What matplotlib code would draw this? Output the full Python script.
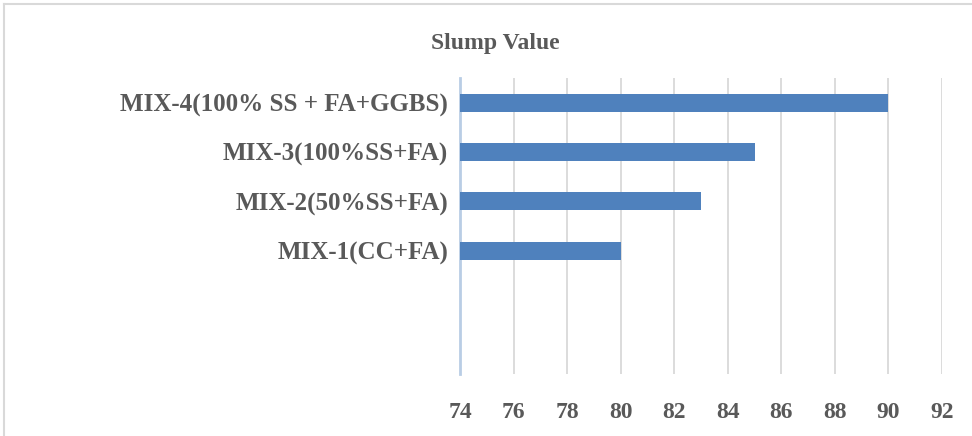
import numpy as np
import matplotlib.pyplot as plt

categories = ['MIX-1(CC+FA)', 'MIX-2(50%SS+FA)', 'MIX-3(100%SS+FA)', 'MIX-4(100% SS + FA+GGBS)']
slump = [80, 83, 85, 90]
xticks = [74, 76, 78, 80, 82, 84, 86, 88, 90, 92]

plt.rcParams['font.family'] = ['Liberation Serif', 'DejaVu Serif']
text_col = '#595959'

fig = plt.figure(figsize=(9.72, 4.36), dpi=100)
ax = fig.add_axes([460 / 972, 1 - 374 / 436, 482 / 972, 296 / 436])

pos = np.arange(len(categories))
ax.barh(pos, [v - 74 for v in slump], left=74, height=0.36, color='#4f81bd', zorder=3)

ax.set_xlim(74, 92)
ax.set_ylim(-2.5, 3.5)
ax.set_xticks(xticks)
ax.set_xticklabels([str(t) for t in xticks], fontsize=17, fontweight='bold', color=text_col)
ax.set_yticks(pos)
ax.set_yticklabels(categories, fontsize=18, fontweight='bold', color=text_col)
ax.tick_params(axis='x', length=0, pad=20)
ax.tick_params(axis='y', length=0, pad=8.5)
ax.grid(axis='x', color='#d9d9d9', linewidth=1.3, zorder=0)

for s in ['top', 'right', 'bottom']:
    ax.spines[s].set_visible(False)
ax.spines['left'].set_color('#b9cde5')
ax.spines['left'].set_linewidth(2)

fig.text(495 / 972, 1 - 43 / 436, 'Slump Value', ha='center', va='center',
         fontsize=17, fontweight='bold', color=text_col)

# outer chart border (only top and left visible in reference)
fig.add_artist(plt.Line2D([4 / 972, 4 / 972], [0, 1 - 4 / 436], transform=fig.transFigure,
                          color='#d9d9d9', linewidth=1.5))
fig.add_artist(plt.Line2D([4 / 972, 1], [1 - 4 / 436, 1 - 4 / 436], transform=fig.transFigure,
                          color='#d9d9d9', linewidth=1.5))

fig.savefig('out.png', dpi=100)
